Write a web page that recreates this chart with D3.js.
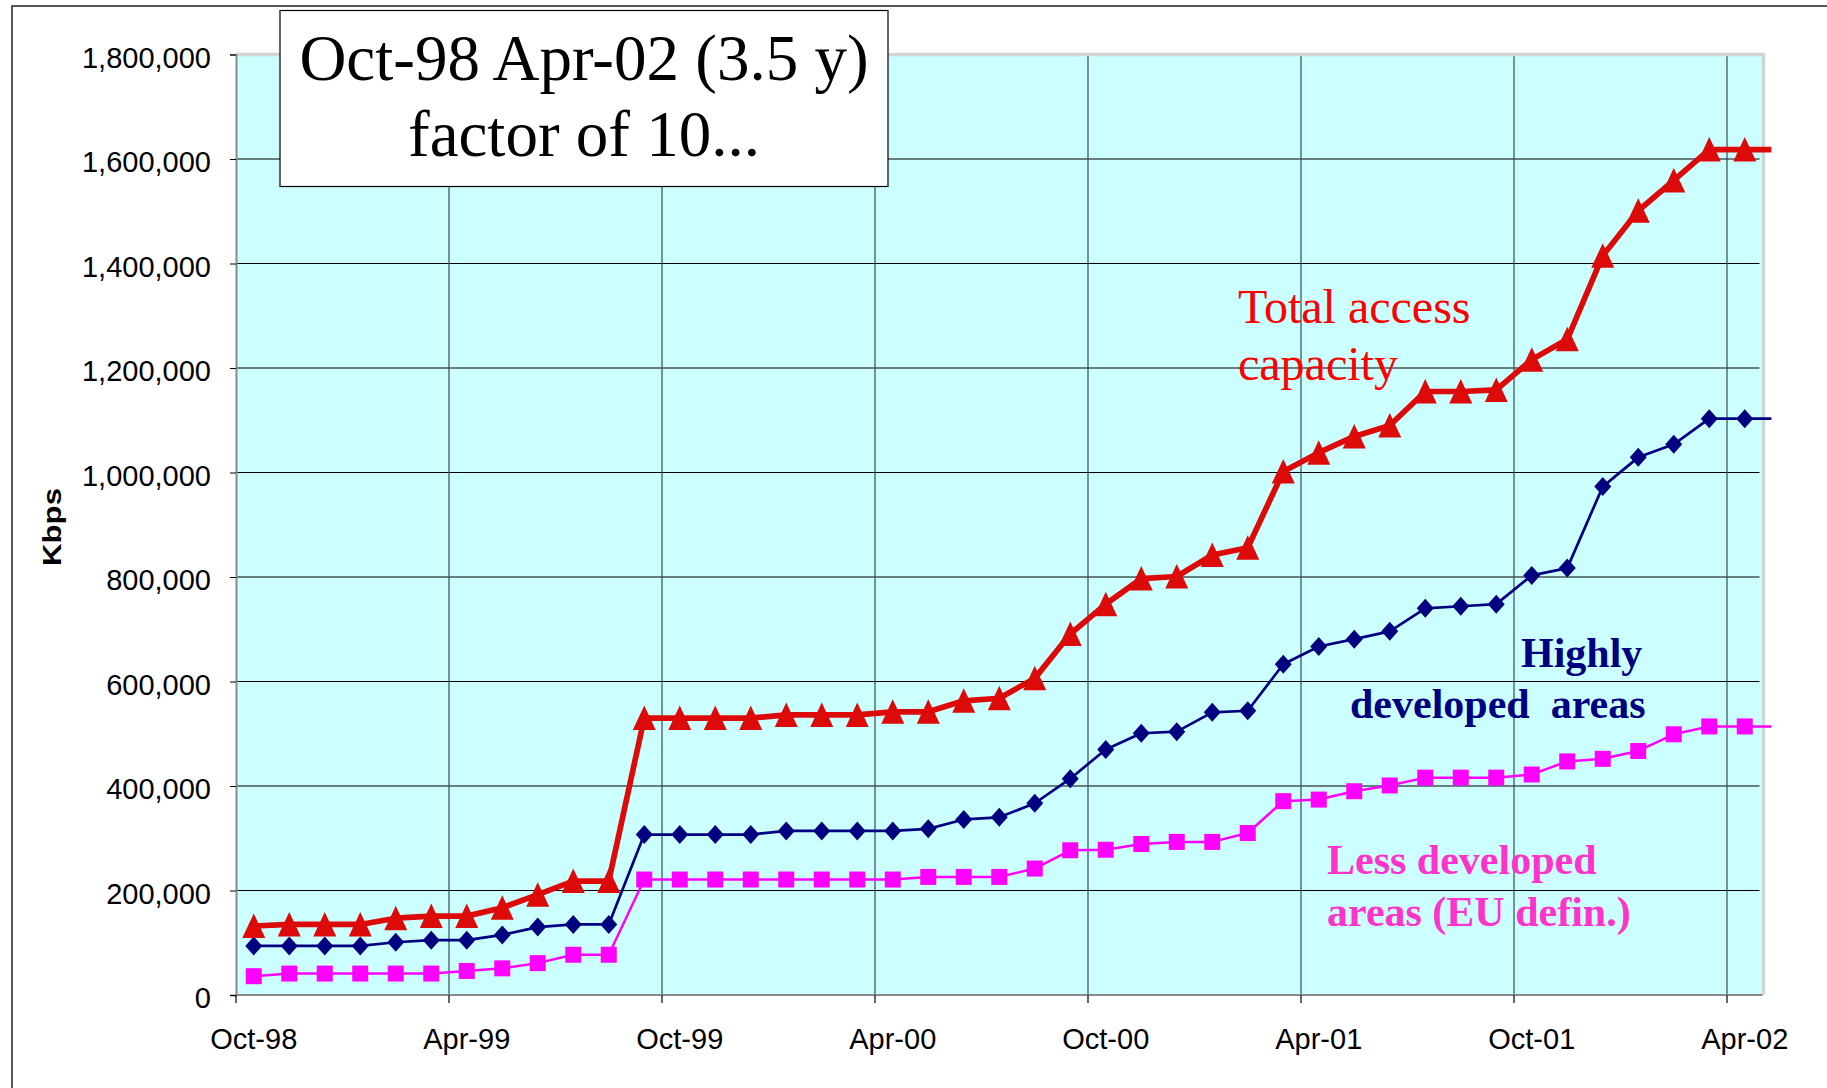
<!DOCTYPE html>
<html>
<head>
<meta charset="utf-8">
<script src="https://cdn.jsdelivr.net/npm/d3@7"></script>
<style>
  body { margin: 0; background: #fff; }
  svg { display: block; }
</style>
</head>
<body>
<svg id="chart" width="1827" height="1088"></svg>
<script>
// monthly categories, Oct-98 .. Apr-02
const months = ["Oct-98","Nov-98","Dec-98","Jan-99","Feb-99","Mar-99","Apr-99","May-99","Jun-99","Jul-99","Aug-99","Sep-99",
  "Oct-99","Nov-99","Dec-99","Jan-00","Feb-00","Mar-00","Apr-00","May-00","Jun-00","Jul-00","Aug-00","Sep-00",
  "Oct-00","Nov-00","Dec-00","Jan-01","Feb-01","Mar-01","Apr-01","May-01","Jun-01","Jul-01","Aug-01","Sep-01",
  "Oct-01","Nov-01","Dec-01","Jan-02","Feb-02","Mar-02","Apr-02"];
const tickLabels = ["Oct-98","Apr-99","Oct-99","Apr-00","Oct-00","Apr-01","Oct-01","Apr-02"];
const yTicks = [0, 200000, 400000, 600000, 800000, 1000000, 1200000, 1400000, 1600000, 1800000];

// Kbps
const total = [132000,135000,135000,135000,147000,151000,151000,167000,192000,218000,218000,
  530000,530000,530000,530000,536000,536000,536000,542000,542000,563000,568000,606000,691000,
  748000,797000,801000,842000,856000,1002000,1038000,1069000,1090000,1155000,1155000,1158000,
  1216000,1255000,1415000,1501000,1559000,1618000,1618000];
const highly = [94000,94000,94000,94000,101000,105000,105000,115000,130000,135000,135000,
  307000,307000,307000,307000,314000,314000,314000,314000,318000,336000,340000,367000,414000,
  470000,501000,504000,541000,544000,633000,667000,681000,696000,740000,744000,748000,
  803000,817000,973000,1029000,1054000,1103000,1103000];
const less = [36000,41000,41000,41000,41000,41000,46000,51000,61000,77000,77000,
  221000,221000,221000,221000,221000,221000,221000,221000,226000,226000,226000,242000,277000,
  278000,289000,293000,293000,310000,371000,374000,390000,401000,416000,416000,416000,
  422000,447000,452000,467000,499000,514000,514000];

const svg = d3.select('#chart');
const plotL = 236, plotR = 1762.5, plotT = 54.5, plotB = 995;

const x = d3.scaleBand().domain(months).range([plotL, plotR]).padding(0);
const y = d3.scaleLinear().domain([0, 1800000]).range([plotB, plotT]);
const cx = d => x(d) + x.bandwidth() / 2;

// outer frame (only top and left edges are visible)
svg.append('rect')
  .attr('x', 12).attr('y', 6).attr('width', 1900).attr('height', 1200)
  .attr('fill', 'none').attr('stroke', '#222').attr('stroke-width', 1.5);

// plot area
svg.append('rect')
  .attr('x', plotL).attr('y', plotT).attr('width', plotR - plotL).attr('height', plotB - plotT)
  .attr('fill', '#CCFFFF');

// horizontal gridlines
svg.append('g').selectAll('line').data(yTicks.slice(1, -1)).enter().append('line')
  .attr('x1', plotL).attr('x2', plotR - 3)
  .attr('y1', d => y(d)).attr('y2', d => y(d))
  .attr('stroke', '#000').attr('stroke-width', 1.2);

// vertical gridlines at every 6th month
svg.append('g').selectAll('line').data(tickLabels.slice(1)).enter().append('line')
  .attr('x1', d => x(d)).attr('x2', d => x(d))
  .attr('y1', plotT).attr('y2', plotB)
  .attr('stroke', '#3a4a4a').attr('stroke-width', 1.2);

// plot border top/right
svg.append('path')
  .attr('d', `M${plotL},${plotT}H${plotR + 1}V${plotB}`)
  .attr('fill', 'none').attr('stroke', '#d4d4d4').attr('stroke-width', 3.5);

// y axis
const yAxis = d3.axisLeft(y).tickValues(yTicks).tickFormat(d3.format(',')).tickSize(6).tickPadding(19);
const gy = svg.append('g').attr('transform', `translate(${plotL},0)`).call(yAxis);
gy.select('.domain').attr('stroke', '#8a8a8a').attr('stroke-width', 2);
gy.selectAll('.tick line').attr('stroke', '#000');
gy.selectAll('.tick text')
  .attr('dy', '0.44em')
  .style('font-family', 'Arial, "Liberation Sans", sans-serif')
  .style('font-size', '29px').attr('fill', '#000');

// x axis labels (centred in their month) + ticks at month starts
const xAxis = d3.axisBottom(x).tickValues(tickLabels).tickSize(0).tickPadding(33);
const gx = svg.append('g').attr('transform', `translate(0,${plotB})`).call(xAxis);
gx.select('.domain').remove();
gx.selectAll('.tick text')
  .style('font-family', 'Arial, "Liberation Sans", sans-serif')
  .style('font-size', '29px').attr('fill', '#000');
svg.append('line')
  .attr('x1', plotL).attr('x2', plotR).attr('y1', plotB).attr('y2', plotB)
  .attr('stroke', '#8a8a8a').attr('stroke-width', 2);
svg.append('g').selectAll('line').data(tickLabels).enter().append('line')
  .attr('x1', d => x(d)).attr('x2', d => x(d))
  .attr('y1', plotB).attr('y2', plotB + 8)
  .attr('stroke', '#000').attr('stroke-width', 1.2);

// y axis title (stretched along its reading direction like the original)
svg.append('text')
  .attr('transform', 'translate(61,527) rotate(-90) scale(1.25,1)')
  .attr('text-anchor', 'middle')
  .style('font-family', 'Arial, "Liberation Sans", sans-serif')
  .style('font-size', '25px').style('font-weight', 'bold')
  .text('Kbps');

// series
const series = [
  { name: 'less', values: less, color: '#FF00FF', width: 2.5, marker: 'square' },
  { name: 'highly', values: highly, color: '#000080', width: 2.7, marker: 'diamond' },
  { name: 'total', values: total, color: '#DD0A0A', width: 5.7, marker: 'triangle' }
];

const markerPath = {
  triangle: 'M0,-12.5L11.5,12L-11.5,12Z',
  diamond: 'M0,-9.5L8.5,0L0,9.5L-8.5,0Z',
  square: 'M-8,-8H8V8H-8Z'
};

series.forEach(s => {
  const pts = months.map((m, i) => [cx(m), y(s.values[i])]);
  // the line carries on a little past the last month
  const last = pts[pts.length - 1];
  pts.push([last[0] + x.step() * 0.75, last[1]]);
  svg.append('path')
    .attr('d', d3.line()(pts))
    .attr('fill', 'none').attr('stroke', s.color)
    .attr('stroke-width', s.width).attr('stroke-linejoin', 'round');
  svg.append('g').selectAll('path').data(months).enter().append('path')
    .attr('transform', (m, i) => `translate(${cx(m)},${y(s.values[i])})`)
    .attr('d', markerPath[s.marker])
    .attr('fill', s.color);
});

// annotations
const serif = '"Times New Roman", "Liberation Serif", serif';
function note(lines, xPos, ys, color, size, weight) {
  lines.forEach((t, i) => {
    svg.append('text')
      .attr('x', xPos).attr('y', ys[i])
      .style('font-family', serif).style('font-size', size + 'px')
      .style('font-weight', weight).style('white-space', 'pre')
      .attr('fill', color).text(t);
  });
}
note(['Total access', 'capacity'], 1238, [323, 380], '#FF0000', 48, 'normal');
note(['Highly'], 1521, [667], '#000080', 42, 'bold');
note(['developed  areas'], 1350, [718], '#000080', 42, 'bold');
note(['Less developed', 'areas (EU defin.)'], 1327, [874, 926], '#FF33CC', 42, 'bold');

// title box
svg.append('rect')
  .attr('x', 280).attr('y', 10.5).attr('width', 608).attr('height', 176)
  .attr('fill', '#fff').attr('stroke', '#000').attr('stroke-width', 1.2);
['Oct-98 Apr-02 (3.5 y)', 'factor of 10...'].forEach((t, i) => {
  svg.append('text')
    .attr('x', 584).attr('y', [80, 156][i])
    .attr('text-anchor', 'middle')
    .style('font-family', serif).style('font-size', '65px')
    .text(t);
});
</script>
</body>
</html>
